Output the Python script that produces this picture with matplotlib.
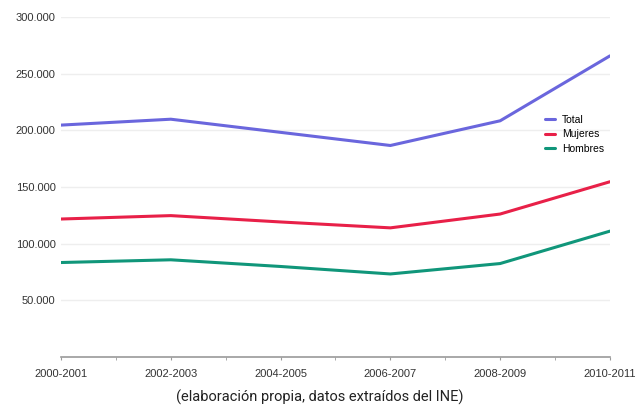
import matplotlib.pyplot as plt
from matplotlib.ticker import FuncFormatter, MultipleLocator

# ---- DATA ----
seasons = ["2000-2001", "2002-2003", "2004-2005", "2006-2007", "2008-2009", "2010-2011"]
total = [204700, 209900, 198300, 186700, 208500, 265800]
mujeres = [121800, 124800, 119200, 114000, 126200, 154700]
hombres = [83400, 85800, 79900, 73300, 82500, 111100]
caption = "(elaboración propia, datos extraídos del INE)"

COLORS = {"Total": "#6a66dd", "Mujeres": "#e82048", "Hombres": "#10967a"}

plt.rcParams.update({
    "font.family": ["Liberation Sans", "DejaVu Sans"],
})

fig = plt.figure(figsize=(6.39, 4.08), dpi=100)
ax = fig.add_axes([0.0955, 0.125, 0.859, 0.833])

x = list(range(len(seasons)))
for name, vals in [("Total", total), ("Mujeres", mujeres), ("Hombres", hombres)]:
    ax.plot(x, vals, color=COLORS[name], linewidth=2.2, label=name,
            solid_joinstyle="round", solid_capstyle="round")

ax.set_xlim(0, len(seasons) - 1)
ax.set_ylim(0, 300000)
ax.set_yticks([50000, 100000, 150000, 200000, 250000, 300000])
ax.yaxis.set_major_formatter(FuncFormatter(lambda v, p: f"{int(v):,}".replace(",", ".")))
ax.set_xticks(x)
ax.set_xticklabels(seasons)
ax.xaxis.set_minor_locator(MultipleLocator(0.5))

ax.grid(axis="y", color="#eeeeee", linewidth=1)
ax.set_axisbelow(True)
for s in ["top", "right", "left"]:
    ax.spines[s].set_visible(False)
ax.spines["bottom"].set_color("#9a9a9a")
ax.spines["bottom"].set_linewidth(1.2)

ax.tick_params(axis="y", length=0, pad=4, labelsize=8, labelcolor="#333333")
ax.tick_params(axis="x", which="both", length=2.5, color="#9a9a9a",
               pad=6, labelsize=8, labelcolor="#333333")

ax.legend(loc="center left", bbox_to_anchor=(0.865, 0.655), frameon=False,
          fontsize=7.5, handlelength=0.9, handletextpad=0.7, labelspacing=0.45)

fig.text(0.5, 0.025, caption, ha="center", va="center", fontsize=10.5,
         color="#222222", family=["Roboto", "DejaVu Sans"])

plt.savefig("out.png", dpi=100)
plt.close()
